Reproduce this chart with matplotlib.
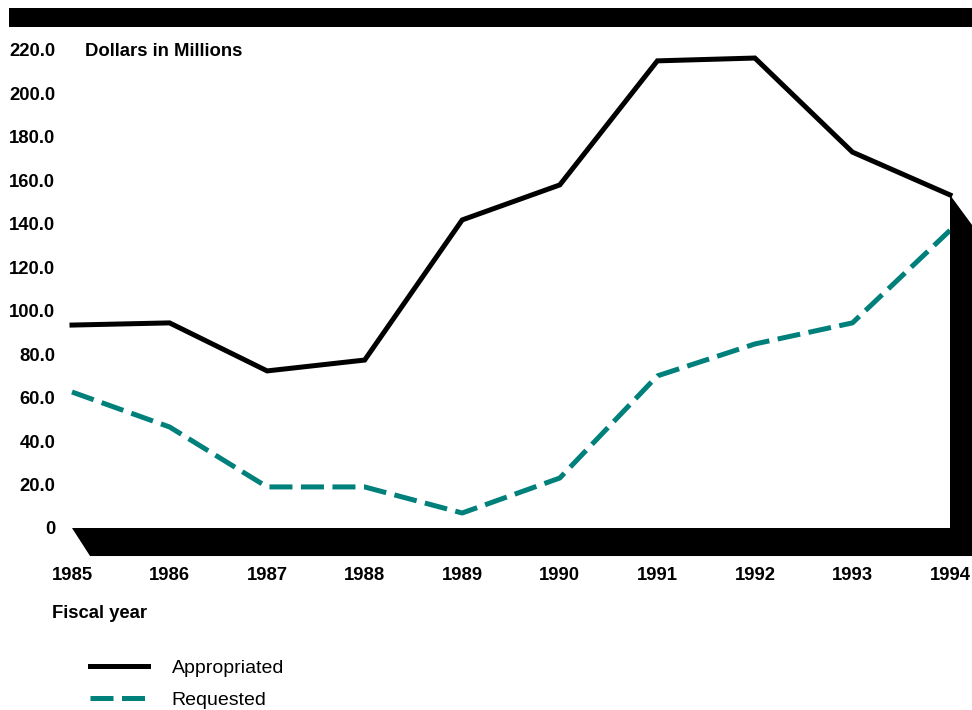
import matplotlib.pyplot as plt
from matplotlib.patches import Polygon, Rectangle

plt.rcParams['font.family'] = ['Liberation Sans', 'DejaVu Sans']

years = [1985, 1986, 1987, 1988, 1989, 1990, 1991, 1992, 1993, 1994]
appropriated = [93.4, 94.4, 72.3, 77.3, 141.8, 157.9, 215.0, 216.3, 173.0, 153.3]
requested = [62.6, 46.5, 18.9, 18.9, 6.9, 23.0, 70.0, 84.7, 94.4, 137.0]
yticks = [0, 20, 40, 60, 80, 100, 120, 140, 160, 180, 200, 220]
ylabels = ['0'] + ['%.1f' % v for v in yticks[1:]]

teal = '#00807b'

fig = plt.figure(figsize=(9.72, 7.10), dpi=100)
ax = fig.add_axes([72 / 972, 182 / 710, 878 / 972, 478 / 710])
ax.set_xlim(1985, 1994)
ax.set_ylim(0, 220)

l1, = ax.plot(years, appropriated, color='black', lw=3.6, solid_joinstyle='miter',
              clip_on=False, zorder=3)
l2, = ax.plot(years, requested, color=teal, lw=3.6, linestyle=(0, (4.6, 1.7)),
              clip_on=False, zorder=3)

# floor + right wall (pseudo 3d)
dx, dxl, d = 0.2255, 0.185, 12.9
shape = Polygon([(1985, 0), (1994, 0), (1994, appropriated[-1]),
                 (1994 + dx, appropriated[-1] - 13.8), (1994 + dx, -d),
                 (1985 + dxl, -d)], closed=True, facecolor='black',
                edgecolor='none', clip_on=False, zorder=4)
ax.add_patch(shape)

# top bar
fig.patches.append(Rectangle((9 / 972, 1 - 27 / 710), 1, 19 / 710,
                             transform=fig.transFigure, facecolor='black',
                             edgecolor='none'))

for s in ax.spines.values():
    s.set_visible(False)
ax.set_yticks(yticks)
ax.set_yticklabels(ylabels, fontsize=13.3, fontweight='bold')
ax.set_xticks(years)
ax.set_xticklabels([str(y) for y in years], fontsize=13.3, fontweight='bold')
ax.tick_params(axis='y', length=0, pad=12)
ax.tick_params(axis='x', length=0, pad=28)

fig.text(85 / 972, 1 - 52 / 710, 'Dollars in Millions', fontsize=13.3,
         fontweight='bold', va='center', ha='left')
fig.text(52 / 972, 1 - 614 / 710, 'Fiscal year', fontsize=13.3,
         fontweight='bold', va='center', ha='left')

fig.legend([l1, l2], ['Appropriated', 'Requested'], loc='upper left',
           bbox_to_anchor=(90 / 972, 1 - 659 / 710), frameon=False,
           fontsize=14, handlelength=3.0, handletextpad=1.2,
           labelspacing=0.75, borderpad=0, borderaxespad=0)

plt.savefig('out.png', dpi=100)
